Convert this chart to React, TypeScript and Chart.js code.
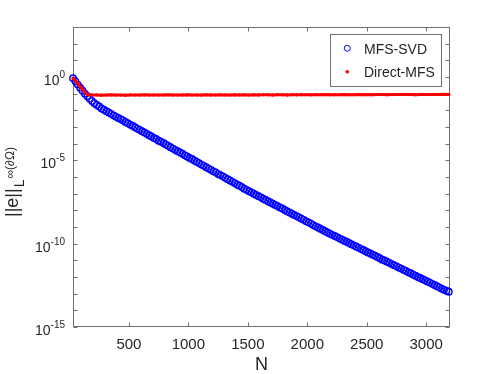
import React, { useEffect, useRef } from "react";
import { Chart, registerables } from "chart.js";

Chart.register(...registerables);

// ---- Data ----
const nSvd = [
  30, 50, 70, 90, 110, 130, 150, 170, 190, 210,
  230, 250, 270, 290, 310, 330, 350, 370, 390, 410,
  430, 450, 470, 490, 510, 530, 550, 570, 590, 610,
  630, 650, 670, 690, 710, 730, 750, 770, 790, 810,
  830, 850, 870, 890, 910, 930, 950, 970, 990, 1010,
  1030, 1050, 1070, 1090, 1110, 1130, 1150, 1170, 1190, 1210,
  1230, 1250, 1270, 1290, 1310, 1330, 1350, 1370, 1390, 1410,
  1430, 1450, 1470, 1490, 1510, 1530, 1550, 1570, 1590, 1610,
  1630, 1650, 1670, 1690, 1710, 1730, 1750, 1770, 1790, 1810,
  1830, 1850, 1870, 1890, 1910, 1930, 1950, 1970, 1990, 2010,
  2030, 2050, 2070, 2090, 2110, 2130, 2150, 2170, 2190, 2210,
  2230, 2250, 2270, 2290, 2310, 2330, 2350, 2370, 2390, 2410,
  2430, 2450, 2470, 2490, 2510, 2530, 2550, 2570, 2590, 2610,
  2630, 2650, 2670, 2690, 2710, 2730, 2750, 2770, 2790, 2810,
  2830, 2850, 2870, 2890, 2910, 2930, 2950, 2970, 2990, 3010,
  3030, 3050, 3070, 3090, 3110, 3130, 3150, 3170, 3190,
];

const mfsSvdError = [
  8.5e-1, 5.5e-1, 3.5e-1, 2.3e-1, 1.5e-1, 1.0e-1, 7.1e-2, 5.0e-2, 3.6e-2, 2.7e-2,
  2.1e-2, 1.7e-2, 1.3e-2, 1.1e-2, 8.9e-3, 7.4e-3, 6.2e-3, 5.0e-3, 4.2e-3, 3.5e-3,
  3.0e-3, 2.5e-3, 2.0e-3, 1.7e-3, 1.4e-3, 1.2e-3, 9.8e-4, 8.1e-4, 6.8e-4, 5.6e-4,
  4.7e-4, 3.9e-4, 3.2e-4, 2.7e-4, 2.2e-4, 1.9e-4, 1.5e-4, 1.3e-4, 1.1e-4, 8.9e-5,
  7.4e-5, 6.2e-5, 5.1e-5, 4.3e-5, 3.5e-5, 3.0e-5, 2.5e-5, 2.0e-5, 1.7e-5, 1.4e-5,
  1.2e-5, 9.8e-6, 8.1e-6, 6.8e-6, 5.6e-6, 4.7e-6, 3.9e-6, 3.2e-6, 2.7e-6, 2.2e-6,
  1.9e-6, 1.5e-6, 1.3e-6, 1.1e-6, 8.9e-7, 7.4e-7, 6.2e-7, 5.1e-7, 4.3e-7, 3.5e-7,
  3.0e-7, 2.5e-7, 2.0e-7, 1.7e-7, 1.4e-7, 1.2e-7, 1.0e-7, 8.4e-8, 7.1e-8, 6.0e-8,
  5.0e-8, 4.2e-8, 3.5e-8, 3.0e-8, 2.5e-8, 2.1e-8, 1.8e-8, 1.5e-8, 1.3e-8, 1.06e-8,
  8.9e-9, 7.5e-9, 6.3e-9, 5.3e-9, 4.5e-9, 3.8e-9, 3.2e-9, 2.7e-9, 2.2e-9, 1.9e-9,
  1.6e-9, 1.3e-9, 1.1e-9, 9.4e-10, 7.9e-10, 6.7e-10, 5.6e-10, 4.7e-10, 4.0e-10, 3.4e-10,
  2.9e-10, 2.5e-10, 2.1e-10, 1.8e-10, 1.5e-10, 1.3e-10, 1.1e-10, 9.3e-11, 7.9e-11, 6.8e-11,
  5.8e-11, 4.9e-11, 4.2e-11, 3.5e-11, 3.0e-11, 2.6e-11, 2.2e-11, 1.9e-11, 1.6e-11, 1.35e-11,
  1.1e-11, 9.8e-12, 8.3e-12, 7.1e-12, 6.0e-12, 5.1e-12, 4.4e-12, 3.7e-12, 3.2e-12, 2.7e-12,
  2.3e-12, 1.9e-12, 1.7e-12, 1.4e-12, 1.2e-12, 1.0e-12, 8.7e-13, 7.4e-13, 6.3e-13, 5.4e-13,
  4.6e-13, 3.9e-13, 3.3e-13, 2.8e-13, 2.4e-13, 2.0e-13, 1.7e-13, 1.5e-13, 1.3e-13,
];

const nDirect = [
  30, 70, 110, 150, 190, 230, 270, 310, 350, 390,
  430, 470, 510, 550, 590, 630, 670, 710, 750, 790,
  830, 870, 910, 950, 990, 1030, 1070, 1110, 1150, 1190,
  1230, 1270, 1310, 1350, 1390, 1430, 1470, 1510, 1550, 1590,
  1630, 1670, 1710, 1750, 1790, 1830, 1870, 1910, 1950, 1990,
  2030, 2070, 2110, 2150, 2190, 2230, 2270, 2310, 2350, 2390,
  2430, 2470, 2510, 2550, 2590, 2630, 2670, 2710, 2750, 2790,
  2830, 2870, 2910, 2950, 2990, 3030, 3070, 3110, 3150, 3190,
];

const directMfsError = [
  0.85, 0.42, 0.18, 0.088, 0.082, 0.084, 0.081, 0.083, 0.085, 0.082,
  0.083, 0.081, 0.084, 0.083, 0.082, 0.085, 0.083, 0.084, 0.082, 0.083,
  0.086, 0.083, 0.082, 0.084, 0.085, 0.083, 0.084, 0.082, 0.085, 0.084,
  0.083, 0.086, 0.084, 0.083, 0.085, 0.084, 0.086, 0.083, 0.085, 0.084,
  0.086, 0.085, 0.084, 0.087, 0.085, 0.084, 0.086, 0.085, 0.087, 0.086,
  0.085, 0.087, 0.086, 0.088, 0.085, 0.087, 0.086, 0.088, 0.087, 0.086,
  0.089, 0.087, 0.088, 0.086, 0.089, 0.088, 0.087, 0.089, 0.088, 0.090,
  0.088, 0.089, 0.087, 0.090, 0.089, 0.088, 0.090, 0.089, 0.091, 0.090,
];

const seriesLabels = ["MFS-SVD", "Direct-MFS"];
const xTickValues = [500, 1000, 1500, 2000, 2500, 3000];
const yLabelExponents = [0, -5, -10, -15];
const yTickDecades = [3, 2, 1, 0, -1, -2, -3, -4, -5, -6, -7, -8, -9, -10, -11, -12, -13, -14, -15];
const xRange = [30, 3200];
const yRange = [1e-15, 1e3];

// ---- Styles ----
const FONT = '"Liberation Sans", Arial, Helvetica, sans-serif';
const AXIS_COLOR = "#6f6f6f";
const TEXT_COLOR = "#262626";
const BLUE = "#0000ff";
const RED = "#ff0000";

const decorPlugin = {
  id: "matlabDecor",
  beforeDatasetsDraw(chart: any) {
    const { ctx, chartArea: a } = chart;
    ctx.save();
    ctx.strokeStyle = AXIS_COLOR;
    ctx.lineWidth = 1;
    const L = Math.round(a.left) + 0.5;
    const R = Math.round(a.right) - 0.5;
    const T = Math.round(a.top) + 0.5;
    const B = Math.round(a.bottom) - 0.5;
    ctx.strokeRect(L, T, R - L, B - T);
    const x = chart.scales.x;
    const y = chart.scales.y;
    ctx.beginPath();
    for (const v of xTickValues) {
      const px = Math.round(x.getPixelForValue(v)) + 0.5;
      ctx.moveTo(px, B);
      ctx.lineTo(px, B - 4);
      ctx.moveTo(px, T);
      ctx.lineTo(px, T + 4);
    }
    for (const d of yTickDecades) {
      const py = Math.round(y.getPixelForValue(Math.pow(10, d))) + 0.5;
      ctx.moveTo(L, py);
      ctx.lineTo(L + 4, py);
      ctx.moveTo(R, py);
      ctx.lineTo(R - 4, py);
    }
    ctx.stroke();
    ctx.restore();
  },
  afterDraw(chart: any) {
    const { ctx, chartArea: a } = chart;
    const x = chart.scales.x;
    const y = chart.scales.y;
    ctx.save();
    ctx.fillStyle = TEXT_COLOR;
    ctx.textBaseline = "alphabetic";

    // x tick labels
    ctx.font = `15px ${FONT}`;
    ctx.textAlign = "center";
    for (const v of xTickValues) {
      ctx.fillText(String(v), x.getPixelForValue(v), 349);
    }
    // x title
    ctx.font = `18px ${FONT}`;
    ctx.fillText("N", (a.left + a.right) / 2, 370);

    // y tick labels 10^e
    ctx.textAlign = "left";
    const xr = 65;
    for (const e of yLabelExponents) {
      const py = y.getPixelForValue(Math.pow(10, e));
      const expText = e === 0 ? "0" : "-" + Math.abs(e);
      ctx.font = `10px ${FONT}`;
      const wE = ctx.measureText(expText).width;
      ctx.font = `14px ${FONT}`;
      const wB = ctx.measureText("10").width;
      ctx.fillText("10", xr - wE - wB, py + 8);
      ctx.font = `10px ${FONT}`;
      ctx.fillText(expText, xr - wE, py + 1);
    }

    // y title ||e||_{L^inf(dOmega)}
    ctx.save();
    ctx.translate(18, 217);
    ctx.rotate(-Math.PI / 2);
    ctx.textAlign = "left";
    ctx.font = `18px ${FONT}`;
    const t1 = "||e||";
    ctx.fillText(t1, 0, 0);
    let u = ctx.measureText(t1).width + 1;
    ctx.font = `14px ${FONT}`;
    ctx.fillText("L", u, 6);
    u += ctx.measureText("L").width + 1;
    ctx.font = `12px ${FONT}`;
    ctx.fillText("\u221E(\u2202\u03A9)", u, -4);
    ctx.restore();

    // legend
    const lx = 330.5, ly = 34.5, lw = 111, lh = 52;
    ctx.fillStyle = "#ffffff";
    ctx.fillRect(lx, ly, lw, lh);
    ctx.strokeStyle = AXIS_COLOR;
    ctx.lineWidth = 1;
    ctx.strokeRect(lx, ly, lw, lh);
    ctx.strokeStyle = BLUE;
    ctx.beginPath();
    ctx.arc(347.3, 48.3, 3, 0, Math.PI * 2);
    ctx.stroke();
    ctx.fillStyle = RED;
    ctx.beginPath();
    ctx.arc(347.3, 71.7, 1.8, 0, Math.PI * 2);
    ctx.fill();
    ctx.fillStyle = TEXT_COLOR;
    ctx.font = `14px ${FONT}`;
    ctx.textAlign = "left";
    ctx.fillText(seriesLabels[0], 364, 53.5);
    ctx.fillText(seriesLabels[1], 364, 76.8);
    ctx.restore();
  },
};

export default function App() {
  const canvasRef = useRef<HTMLCanvasElement | null>(null);

  useEffect(() => {
    document.body.style.margin = "0";
    const canvas = canvasRef.current;
    if (!canvas) return;
    const svdPoints = nSvd.map((n, i) => ({ x: n, y: mfsSvdError[i] }));
    const directPoints = nDirect.map((n, i) => ({ x: n, y: directMfsError[i] }));
    const chart = new Chart(canvas, {
      type: "scatter",
      data: {
        datasets: [
          {
            label: seriesLabels[1],
            data: directPoints,
            showLine: true,
            borderColor: RED,
            borderWidth: 3,
            pointRadius: 1.6,
            pointBackgroundColor: RED,
            pointBorderWidth: 0,
            clip: false,
          } as any,
          {
            label: seriesLabels[0],
            data: svdPoints,
            showLine: false,
            pointStyle: "circle",
            pointRadius: 3.2,
            pointBorderWidth: 1.4,
            pointBorderColor: BLUE,
            pointBackgroundColor: "rgba(0,0,0,0)",
            clip: false,
          } as any,
        ],
      },
      options: {
        responsive: false,
        animation: false,
        devicePixelRatio: 1,
        layout: { padding: { left: 73, right: 48, top: 27, bottom: 47 } },
        plugins: {
          legend: { display: false },
          tooltip: { enabled: false },
        },
        scales: {
          x: { type: "linear", display: false, min: xRange[0], max: xRange[1] },
          y: { type: "logarithmic", display: false, min: yRange[0], max: yRange[1] },
        },
      },
      plugins: [decorPlugin],
    });
    return () => chart.destroy();
  }, []);

  return (
    <div style={{ width: 498, height: 374 }}>
      <canvas ref={canvasRef} width={498} height={374} style={{ display: "block" }} />
    </div>
  );
}
